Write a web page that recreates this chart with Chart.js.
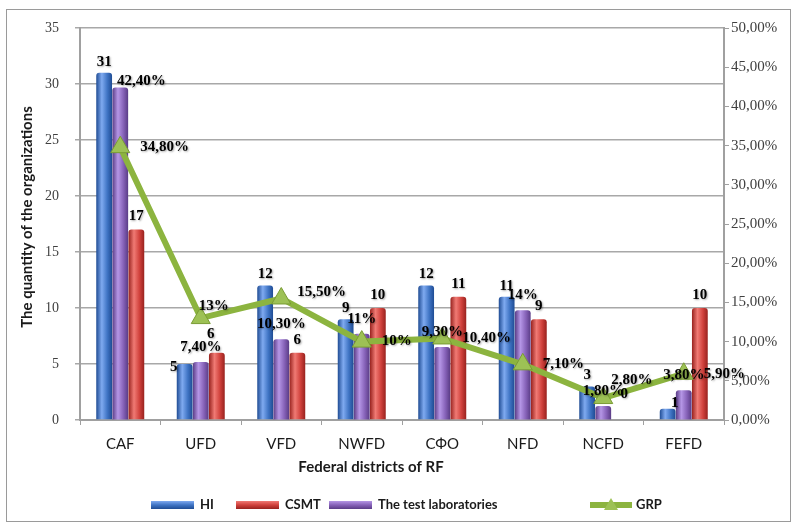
<!DOCTYPE html>
<html>
<head>
<meta charset="utf-8">
<title>Federal districts of RF</title>
<script src="https://cdn.jsdelivr.net/npm/chart.js@4.4.1/dist/chart.umd.min.js"></script>
<style>
	html, body { margin: 0; padding: 0; background: #fff; }
	#wrap { width: 794px; height: 526px; }
</style>
</head>
<body>
<div id="wrap"><canvas id="myChart" width="794" height="526"></canvas></div>
<script>
/* data */
const districts = ['CAF', 'UFD', 'VFD', 'NWFD', 'СФО', 'NFD', 'NCFD', 'FEFD'];
const hiCount = [31, 5, 12, 9, 12, 11, 3, 1];
const csmtCount = [17, 6, 6, 10, 11, 9, 0, 10];
const labsShare = [42.4, 7.4, 10.3, 11, 9.3, 14, 1.8, 3.8];
const grpShare = [34.8, 13, 15.5, 10, 10.4, 7.1, 2.8, 5.9];
const countTicks = [0, 5, 10, 15, 20, 25, 30, 35];
const shareTicks = [0, 5, 10, 15, 20, 25, 30, 35, 40, 45, 50];

const serif = '"Liberation Serif", "Times New Roman", serif';
const sans = 'Lato, "Open Sans", sans-serif';

// label nudges, same as the hand-moved labels of the original
const labelShift = {
	'hi-1': [-11, 14], 'hi-7': [7, 5],
	'csmt-1': [-6, -6], 'csmt-6': [5, -13],
	'labs-0': [21, 9],
	'grp-1': [-22, -12], 'grp-2': [-4, -6], 'grp-6': [-12, -18]
};

function pct(v, alwaysDecimals) {
	if (!alwaysDecimals && Number.isInteger(v)) return v + '%';
	return v.toFixed(2).replace('.', ',') + '%';
}

// cylinder look for the bars
function cylinder(base, light, dark) {
	return (c) => {
		const el = c.chart.getDatasetMeta(c.datasetIndex).data[c.dataIndex];
		if (!el || !isFinite(el.x) || !el.width) return base;
		const g = c.chart.ctx.createLinearGradient(el.x - el.width / 2, 0, el.x + el.width / 2, 0);
		g.addColorStop(0, dark);
		g.addColorStop(0.35, light);
		g.addColorStop(0.7, base);
		g.addColorStop(1, dark);
		return g;
	};
}

const colors = {
	hi: ['#3f74c4', '#7faaf0', '#1f4c94'],
	csmt: ['#d0413c', '#f07a74', '#98221e'],
	labs: ['#8662b8', '#b596e6', '#5a3c86'],
	grp: '#8cb43f'
};

const dataLabels = {
	id: 'dataLabels',
	afterDatasetsDraw(chart) {
		const ctx = chart.ctx;
		ctx.save();
		ctx.font = 'bold 15px ' + serif;
		ctx.fillStyle = '#000';
		ctx.shadowColor = 'rgba(0,0,0,0.35)';
		ctx.shadowBlur = 2;
		ctx.shadowOffsetX = 1;
		ctx.shadowOffsetY = 1;
		ctx.textBaseline = 'middle';
		const sets = [
			{ key: 'hi', idx: 0, text: (v) => String(v), dy: -11, align: 'center' },
			{ key: 'labs', idx: 1, text: (v) => pct(v), dy: -15, align: 'center' },
			{ key: 'csmt', idx: 2, text: (v) => String(v), dy: -13, align: 'center' },
			{ key: 'grp', idx: 3, text: (v) => pct(v), dy: 0, dx: 20, align: 'left' }
		];
		sets.forEach((s) => {
			const meta = chart.getDatasetMeta(s.idx);
			const values = chart.data.datasets[s.idx].data;
			meta.data.forEach((el, i) => {
				const sh = labelShift[s.key + '-' + i] || [0, 0];
				ctx.textAlign = s.align;
				ctx.fillText(s.text(values[i]), el.x + (s.dx || 0) + sh[0], el.y + s.dy + sh[1]);
			});
		});
		ctx.restore();
	}
};

const frameAndLegend = {
	id: 'frameAndLegend',
	afterDraw(chart) {
		const ctx = chart.ctx;
		ctx.save();
		// outer frame
		ctx.strokeStyle = '#9a9a9a';
		ctx.lineWidth = 1;
		ctx.strokeRect(6.5, 9.5, 784, 512);

		// axis titles
		ctx.fillStyle = '#1a1a1a';
		ctx.font = 'bold 15px ' + sans;
		ctx.textAlign = 'center';
		ctx.textBaseline = 'middle';
		ctx.fillText('Federal districts of RF', 371, 467);
		ctx.save();
		ctx.translate(27, 217);
		ctx.rotate(-Math.PI / 2);
		ctx.fillText('The quantity of the organizations', 0, 0);
		ctx.restore();

		// legend
		const items = [
			{ text: 'HI', c: colors.hi, x: 151, tx: 200 },
			{ text: 'CSMT', c: colors.csmt, x: 236, tx: 285 },
			{ text: 'The test laboratories', c: colors.labs, x: 329, tx: 378 },
			{ text: 'GRP', c: colors.grp, x: 590, tx: 636, line: true }
		];
		const ly = 505;
		ctx.font = 'bold 13px ' + sans;
		ctx.textAlign = 'left';
		items.forEach((it) => {
			if (it.line) {
				ctx.strokeStyle = it.c;
				ctx.lineWidth = 6;
				ctx.beginPath();
				ctx.moveTo(it.x, ly);
				ctx.lineTo(it.x + 42, ly);
				ctx.stroke();
				ctx.fillStyle = '#9dc155';
				ctx.beginPath();
				ctx.moveTo(it.x + 21, ly - 7);
				ctx.lineTo(it.x + 28, ly + 5);
				ctx.lineTo(it.x + 14, ly + 5);
				ctx.closePath();
				ctx.fill();
			} else {
				const g = ctx.createLinearGradient(0, ly - 4, 0, ly + 4);
				g.addColorStop(0, it.c[1]);
				g.addColorStop(0.5, it.c[0]);
				g.addColorStop(1, it.c[2]);
				ctx.fillStyle = g;
				ctx.fillRect(it.x, ly - 4, 43, 8);
			}
			ctx.fillStyle = '#1a1a1a';
			ctx.fillText(it.text, it.tx, ly);
		});
		ctx.restore();
	}
};

const ctx = document.getElementById('myChart');

const chart = new Chart(ctx, {
	data: {
		labels: districts,
		datasets: [
			{
				type: 'bar',
				label: 'HI',
				data: hiCount,
				yAxisID: 'y',
				backgroundColor: cylinder(...colors.hi),
				borderRadius: { topLeft: 3, topRight: 3 },
				borderSkipped: 'bottom'
			},
			{
				type: 'bar',
				label: 'The test laboratories',
				data: labsShare,
				yAxisID: 'y1',
				backgroundColor: cylinder(...colors.labs),
				borderRadius: { topLeft: 3, topRight: 3 },
				borderSkipped: 'bottom'
			},
			{
				type: 'bar',
				label: 'CSMT',
				data: csmtCount,
				yAxisID: 'y',
				backgroundColor: cylinder(...colors.csmt),
				borderRadius: { topLeft: 3, topRight: 3 },
				borderSkipped: 'bottom'
			},
			{
				type: 'line',
				label: 'GRP',
				data: grpShare,
				yAxisID: 'y1',
				order: -1,
				borderColor: colors.grp,
				borderWidth: 6,
				tension: 0,
				pointStyle: 'triangle',
				pointRadius: 11,
				pointBackgroundColor: '#9dc155',
				pointBorderColor: '#7a9c35',
				pointBorderWidth: 1
			}
		]
	},
	options: {
		responsive: false,
		animation: false,
		devicePixelRatio: 1,
		categoryPercentage: 0.6,
		barPercentage: 0.98,
		layout: { padding: { top: 28, left: 0, right: 0, bottom: 0 } },
		plugins: {
			legend: { display: false },
			tooltip: { enabled: false }
		},
		scales: {
			x: {
				offset: true,
				grid: { offset: true, drawOnChartArea: false, tickLength: 5, color: '#a0a0a0' },
				border: { color: '#a0a0a0', width: 2 },
				ticks: { font: { family: sans, size: 15 }, color: '#1a1a1a', padding: 10 },
				afterFit: (s) => { s.height = 106; }
			},
			y: {
				position: 'left',
				min: 0,
				max: 35,
				afterBuildTicks: (s) => { s.ticks = countTicks.map((v) => ({ value: v })); },
				grid: { color: '#a8a8a8', lineWidth: 1.5, tickLength: 5 },
				border: { color: '#a0a0a0', width: 2 },
				ticks: { font: { family: serif, size: 14 }, color: '#404040', padding: 16 },
				afterFit: (s) => { s.width = 80; }
			},
			y1: {
				position: 'right',
				min: 0,
				max: 50,
				afterBuildTicks: (s) => { s.ticks = shareTicks.map((v) => ({ value: v })); },
				grid: { drawOnChartArea: false, color: '#a0a0a0', tickLength: 5 },
				border: { color: '#a0a0a0', width: 2 },
				ticks: {
					font: { family: serif, size: 15 },
					color: '#404040',
					padding: 2,
					callback: (v) => pct(v, true)
				},
				afterFit: (s) => { s.width = 70; }
			}
		}
	},
	plugins: [dataLabels, frameAndLegend]
});

// second pass so the bar gradients know where the bars are
chart.update();
</script>
</body>
</html>
